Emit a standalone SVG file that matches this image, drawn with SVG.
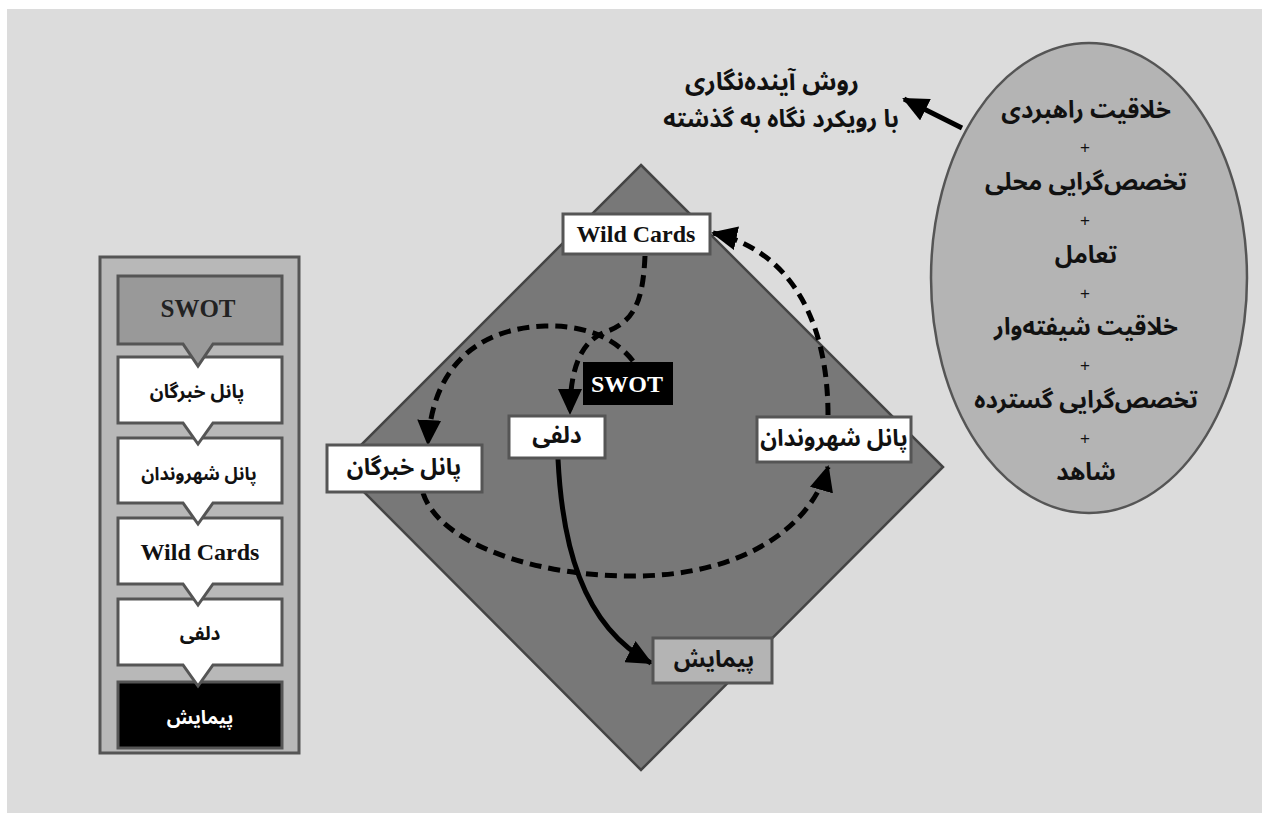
<svg xmlns="http://www.w3.org/2000/svg" width="1262" height="813" viewBox="0 0 1262 813">
<defs>
<style>
.fa{font-family:"Noto Sans Arabic","DejaVu Sans",sans-serif;font-weight:bold;font-size:23px;fill:#111;text-anchor:middle;dominant-baseline:central}
.sm{font-size:19px}
.lg{font-size:24px}
.en{font-family:"Liberation Serif",serif;font-weight:bold;font-size:24px;fill:#111;text-anchor:middle;dominant-baseline:central}
.plus{font-family:"Liberation Sans",sans-serif;font-size:17px;fill:#111;text-anchor:middle;dominant-baseline:central}
.box{fill:#fff;stroke:#555;stroke-width:3}
.call{stroke:#555;stroke-width:3;stroke-linejoin:miter}
.dash{fill:none;stroke:#000;stroke-width:5;stroke-dasharray:12 7}
.solid{fill:none;stroke:#000;stroke-width:5}
</style>
<marker id="ah" markerUnits="userSpaceOnUse" markerWidth="26" markerHeight="24" viewBox="0 0 26 24" refX="24" refY="12" orient="auto">
<path d="M0,0 L26,12 L0,24 Z" fill="#000"/>
</marker>
</defs>
<rect x="7" y="9" width="1255" height="804" fill="#dcdcdc"/>

<g id="left-panel">
<rect x="100" y="257" width="199" height="496" fill="#b8b8b8" stroke="#555" stroke-width="3"/>
<g id="lp-peymayesh">
<rect x="118" y="682" width="164" height="66" fill="#000" stroke="#555" stroke-width="3"/>
<text class="fa sm" x="200" y="718" style="fill:#fff">پیمایش</text>
</g>
<g id="lp-delphi">
<path class="call" fill="#fff" d="M118,599 H282 V665 H213 L198,686 L183,665 H118 Z"/>
<text class="fa sm" x="200" y="634">دلفی</text>
</g>
<g id="lp-wildcards">
<path class="call" fill="#fff" d="M118,518 H282 V584 H213 L198,605 L183,584 H118 Z"/>
<text class="en" x="200" y="552">Wild Cards</text>
</g>
<g id="lp-citizens">
<path class="call" fill="#fff" d="M118,438 H282 V503 H213 L198,524 L183,503 H118 Z"/>
<text class="fa sm" x="199" y="474" style="font-size:18px">پانل شهروندان</text>
</g>
<g id="lp-experts">
<path class="call" fill="#fff" d="M118,357 H282 V423 H213 L198,444 L183,423 H118 Z"/>
<text class="fa sm" x="197" y="392">پانل خبرگان</text>
</g>
<g id="lp-swot">
<path class="call" fill="#999" d="M118,276 H282 V344 H213 L198,366 L183,344 H118 Z"/>
<text class="en" x="198" y="308" style="fill:#222;font-size:25px">SWOT</text>
</g>
</g>

<g id="diamond">
<path d="M641,165 L943,467 L641,770 L339,467 Z" fill="#787878" stroke="#444" stroke-width="2.5"/>
</g>

<g id="connectors">
<path class="dash" d="M645,256 C643,300 635,322 605,332 C580,342 570,370 570,413" marker-end="url(#ah)"/>
<path class="dash" d="M633,361 C612,334 578,325 545,326 C480,328 432,365 428,444" marker-end="url(#ah)"/>
<path class="dash" d="M423,493 C440,545 540,578 640,576 C740,574 810,530 828,467" marker-end="url(#ah)"/>
<path class="dash" d="M828,415 C828,320 790,250 713,233" marker-end="url(#ah)"/>
<path class="solid" d="M558,459 C562,540 580,625 651,663" marker-end="url(#ah)"/>
<path class="solid" d="M962,128 L904,99" marker-end="url(#ah)"/>
</g>

<g id="wildcards">
<rect class="box" x="563" y="214" width="147" height="40"/>
<text class="en" x="636" y="234">Wild Cards</text>
</g>
<g id="swot">
<rect x="583" y="362" width="90" height="43" fill="#000"/>
<text class="en" x="627" y="384" style="fill:#fff">SWOT</text>
</g>
<g id="delphi">
<rect class="box" x="509" y="416" width="96" height="42"/>
<text class="fa" x="557" y="435">دلفی</text>
</g>
<g id="experts">
<rect class="box" x="327" y="445" width="155" height="47"/>
<text class="fa" x="404" y="467">پانل خبرگان</text>
</g>
<g id="citizens">
<rect class="box" x="757" y="417" width="154" height="45"/>
<text class="fa" x="834" y="438">پانل شهروندان</text>
</g>
<g id="peymayesh">
<rect x="653" y="638" width="119" height="45" fill="#b4b4b4" stroke="#555" stroke-width="3"/>
<text class="fa" x="714" y="659">پیمایش</text>
</g>

<g id="method-label">
<text class="fa lg" x="772" y="82" style="font-size:25px">روش آینده&#8204;نگاری</text>
<text class="fa lg" x="781" y="119">با رویکرد نگاه به گذشته</text>
</g>

<g id="ellipse">
<ellipse cx="1089" cy="278" rx="158" ry="235" fill="#b4b4b4" stroke="#555" stroke-width="2.5"/>
<text class="fa lg" x="1086" y="110">خلاقیت راهبردی</text>
<text class="plus" x="1085" y="147">+</text>
<text class="fa lg" x="1086" y="182">تخصص&#8204;گرایی محلی</text>
<text class="plus" x="1085" y="220">+</text>
<text class="fa lg" x="1086" y="255">تعامل</text>
<text class="plus" x="1085" y="293">+</text>
<text class="fa lg" x="1086" y="327">خلاقیت شیفته&#8204;وار</text>
<text class="plus" x="1085" y="365">+</text>
<text class="fa lg" x="1086" y="400">تخصص&#8204;گرایی گسترده</text>
<text class="plus" x="1085" y="438">+</text>
<text class="fa lg" x="1086" y="472">شاهد</text>
</g>
</svg>
